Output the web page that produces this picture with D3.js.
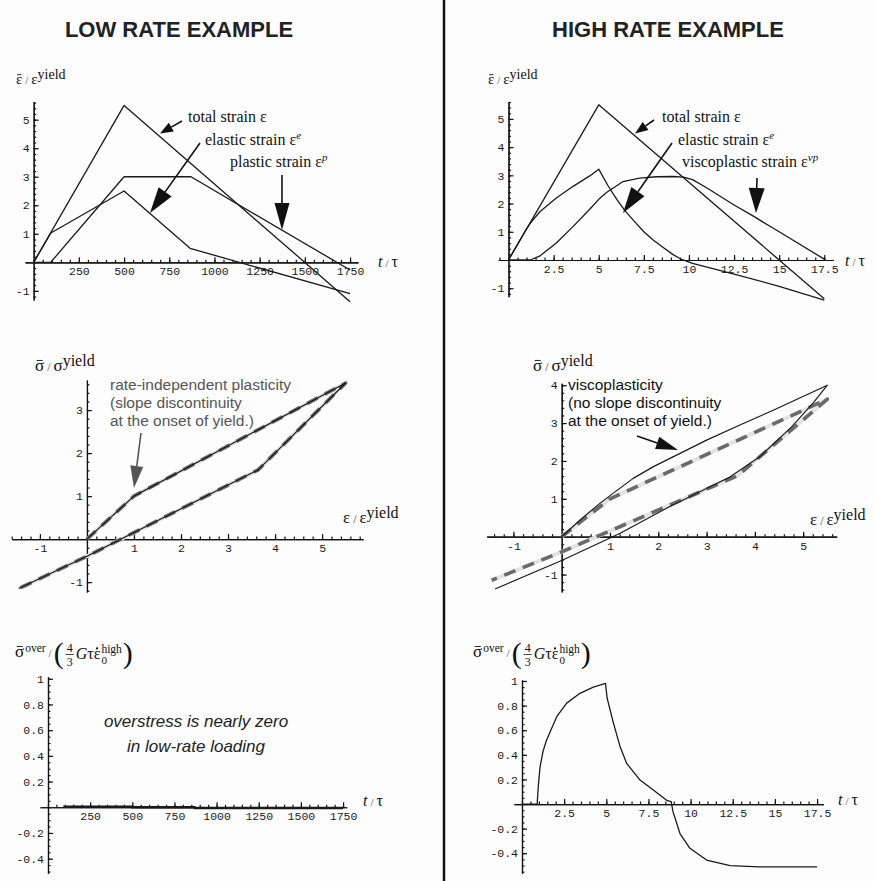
<!DOCTYPE html>
<html>
<head>
<meta charset="utf-8">
<script src="https://cdn.jsdelivr.net/npm/d3@7"></script>
<style>
  body { margin: 0; background: #fdfdfd; }
  svg { display: block; }
  .axis .domain, .axis line { stroke: #111; stroke-width: 1.2; }
</style>
</head>
<body>
<script>
// ---- low rate strains (t/tau, strain/eps_yield) ----
var lowTotalT   = [0, 500, 1750];
var lowTotal    = [0, 5.5, -1.38];
var lowElasticT = [0, 95, 500, 865, 1750];
var lowElastic  = [0, 1.03, 2.5, 0.49, -1.1];
var lowPlasticT = [0, 94, 500, 870, 1750];
var lowPlastic  = [0, 0, 3, 3, -0.27];

// ---- high rate strains ----
var highTotalT   = [0, 5, 17.5];
var highTotal    = [0, 5.5, -1.375];
var highElasticT = [0, 0.9, 1.2, 1.75, 2.65, 3.6, 4.5, 5, 5.5, 6, 6.45, 7, 7.5, 8, 8.5, 9.1, 9.6, 10.2, 11, 12.5, 15, 17.5];
var highElastic  = [0, 1.0, 1.3, 1.72, 2.2, 2.62, 2.98, 3.22, 2.65, 2.15, 1.75, 1.35, 1.0, 0.72, 0.48, 0.2, 0.02, -0.12, -0.25, -0.5, -0.93, -1.42];
var highViscoT   = [0, 1.2, 1.75, 2.65, 3.6, 4.5, 5, 5.45, 6.35, 7.25, 8.2, 9.1, 9.7, 10.2, 11, 12.5, 13.5, 15, 17.5];
var highVisco    = [0, 0, 0.15, 0.6, 1.2, 1.8, 2.15, 2.4, 2.78, 2.9, 2.95, 2.96, 2.94, 2.85, 2.55, 1.95, 1.58, 1.0, 0.03];

// ---- stress vs strain ----
var riEps = [0, 1, 5.5, 3.64, 0, -1.45];          // rate-independent
var riSig = [0, 1, 3.63, 1.61, -0.4, -1.15];
var vpEps = [0, 0.38, 0.79, 1.07, 1.48, 1.9, 2.45, 3.0, 3.69, 4.38, 5.5, 5.2, 4.76, 4.1, 3.49, 3.07, 2.17, 1.21, 0, -1.38];
var vpSig = [0, 0.44, 0.88, 1.15, 1.54, 1.85, 2.2, 2.55, 2.95, 3.34, 4.0, 3.52, 2.9, 2.11, 1.58, 1.32, 0.75, 0.09, -0.63, -1.38];

// ---- overstress ----
var lowOverT  = [91, 500, 500, 870, 870, 1750];
var lowOver   = [0.004, 0.004, 0, 0, -0.006, -0.006];
var highOverT = [0, 0.9, 0.97, 1.07, 1.25, 1.46, 2.06, 2.65, 3.44, 4.23, 4.95, 5.05, 5.42, 5.81, 6.21, 7.0, 7.79, 8.58, 8.85, 8.95, 9.37, 9.96, 10.95, 12.34, 14.1, 17.5];
var highOver  = [0, 0, 0.15, 0.3, 0.43, 0.52, 0.71, 0.82, 0.9, 0.95, 0.98, 0.86, 0.66, 0.47, 0.33, 0.195, 0.114, 0.03, 0.02, -0.06, -0.24, -0.36, -0.455, -0.5, -0.51, -0.51];

// ---- tick labels ----
var lowTTicks    = [250, 500, 750, 1000, 1250, 1500, 1750];
var highTTicks   = [2.5, 5, 7.5, 10, 12.5, 15, 17.5];
var strainTicks  = [-1, 1, 2, 3, 4, 5];
var epsTicks     = [-1, 1, 2, 3, 4, 5];
var sigLowTicks  = [-1, 1, 2, 3];
var sigHighTicks = [-1, 1, 2, 3, 4];
var overTicks    = [-0.4, -0.2, 0.2, 0.4, 0.6, 0.8, 1];

var serif = "'Liberation Serif','Times New Roman',serif";
var sans = "'Liberation Sans',Arial,sans-serif";
var mono = "'Liberation Mono','Courier New',monospace";

var svg = d3.select("body").append("svg")
  .attr("width", 875)
  .attr("height", 881);

svg.append("rect").attr("width", 875).attr("height", 881).attr("fill", "#fdfdfd");

function zip(a, b) { return a.map(function(v, i) { return [v, b[i]]; }); }

function panel(xDom, xRng, yDom, yRng, xTicks, xStep, yTicks, yStep) {
  var x = d3.scaleLinear().domain(xDom).range(xRng);
  var y = d3.scaleLinear().domain(yDom).range(yRng);
  var g = svg.append("g");
  var ax = g.append("g").attr("transform", "translate(0," + y(0) + ")");
  var ay = g.append("g").attr("transform", "translate(" + x(0) + ",0)");

  var xMinor = d3.range(Math.ceil(xDom[0] / xStep) * xStep, xDom[1], xStep);
  var yMinor = d3.range(Math.ceil(yDom[0] / yStep) * yStep, yDom[1], yStep);

  ax.append("g").attr("class", "axis")
    .call(d3.axisBottom(x).tickValues(xMinor).tickSizeInner(-2.5).tickSizeOuter(0).tickFormat(""));
  ax.append("g").attr("class", "axis")
    .call(d3.axisBottom(x).tickValues(xTicks).tickSizeInner(-5).tickSizeOuter(0).tickPadding(5).tickFormat(String))
    .attr("font-family", mono).attr("font-size", 11.5).attr("color", "#1a1a1a");
  ay.append("g").attr("class", "axis")
    .call(d3.axisLeft(y).tickValues(yMinor).tickSizeInner(-2.5).tickSizeOuter(0).tickFormat(""));
  ay.append("g").attr("class", "axis")
    .call(d3.axisLeft(y).tickValues(yTicks).tickSizeInner(-5).tickSizeOuter(0).tickPadding(4).tickFormat(String))
    .attr("font-family", mono).attr("font-size", 11.5).attr("color", "#1a1a1a");
  return { x: x, y: y, g: g };
}

function curve(p, xs, ys, opts) {
  opts = opts || {};
  var line = d3.line().x(function(d) { return p.x(d[0]); }).y(function(d) { return p.y(d[1]); });
  p.g.append("path")
    .attr("d", line(zip(xs, ys)))
    .attr("fill", "none")
    .attr("stroke", opts.color || "#1a1a1a")
    .attr("stroke-width", opts.width || 1.3)
    .attr("stroke-dasharray", opts.dash || null)
    .attr("stroke-linejoin", "round");
}

function dashedCurve(p, xs, ys) {
  curve(p, xs, ys, { color: "#e2e2e2", width: 4 });
  curve(p, xs, ys, { color: "#6a6a6a", width: 3.6, dash: "12,8" });
}

function arrow(x1, y1, x2, y2, len, hw, color) {
  var dx = x2 - x1, dy = y2 - y1, L = Math.sqrt(dx * dx + dy * dy);
  var ux = dx / L, uy = dy / L;
  var bx = x2 - ux * len, by = y2 - uy * len;
  svg.append("line").attr("x1", x1).attr("y1", y1).attr("x2", bx).attr("y2", by)
    .attr("stroke", color).attr("stroke-width", 1.6);
  svg.append("path")
    .attr("d", "M" + x2 + "," + y2 + "L" + (bx - uy * hw) + "," + (by + ux * hw) + "L" + (bx + uy * hw) + "," + (by - ux * hw) + "Z")
    .attr("fill", color);
}

function txt(x, y, s, size, family, opts) {
  opts = opts || {};
  return svg.append("text").attr("x", x).attr("y", y).text(s)
    .attr("font-size", size).attr("font-family", family)
    .attr("font-style", opts.italic ? "italic" : null)
    .attr("font-weight", opts.bold ? "bold" : null)
    .attr("text-anchor", opts.anchor || "start")
    .attr("fill", opts.color || "#111");
}

// place pieces one after another; returns the x after the last piece
function seq(x0, yb, parts) {
  var x = x0;
  parts.forEach(function(pt) {
    x += pt.gap || 0;
    var t = txt(x, yb + (pt.dy || 0), pt.s, pt.size, serif, { italic: pt.italic, color: pt.color });
    var w = t.node().getComputedTextLength();
    if (pt.bar) {
      svg.append("line").attr("x1", x + w * 0.18).attr("x2", x + w * 0.85)
        .attr("y1", yb - pt.size * 0.62).attr("y2", yb - pt.size * 0.62)
        .attr("stroke", "#111").attr("stroke-width", 0.9);
    }
    if (pt.dot) {
      svg.append("circle").attr("cx", x + w * 0.5).attr("cy", yb - pt.size * 0.66)
        .attr("r", 1.1).attr("fill", "#111");
    }
    if (!pt.stay) x += w;
  });
  return x;
}

function ratioLabel(x0, yb, sym, bar, fs, sfs) {
  seq(x0, yb, [
    { s: sym, size: fs, bar: bar },
    { s: "/", size: fs * 0.7, gap: 3, color: "#444" },
    { s: sym, size: fs, gap: 3 },
    { s: "yield", size: sfs, dy: -5 }
  ]);
}

function tauLabel(x0, yb) {
  seq(x0, yb, [
    { s: "t", size: 16, italic: true },
    { s: "/", size: 11, gap: 3, color: "#444" },
    { s: "\u03c4", size: 16, gap: 3 }
  ]);
}

function overLabel(x0, yb) {
  var x = seq(x0, yb, [
    { s: "\u03c3", size: 17, bar: true },
    { s: "over", size: 11.5, dy: -5, gap: 1 },
    { s: "/", size: 11, gap: 3, color: "#444" },
    { s: "(", size: 30, dy: 6, gap: 2 }
  ]);
  x += 2;
  txt(x + 4, yb - 5, "4", 12, serif, { anchor: "middle" });
  txt(x + 4, yb + 9, "3", 12, serif, { anchor: "middle" });
  svg.append("line").attr("x1", x).attr("x2", x + 8).attr("y1", yb - 2.5).attr("y2", yb - 2.5)
    .attr("stroke", "#111").attr("stroke-width", 0.8);
  x = seq(x + 10, yb + 2, [
    { s: "G", size: 16, italic: true },
    { s: "\u03c4", size: 16 },
    { s: "\u03b5", size: 16, dot: true }
  ]);
  var x2 = seq(x + 1, yb + 7, [{ s: "0", size: 11 }]);
  var x3 = seq(x + 1, yb - 4, [{ s: "high", size: 11.5 }]);
  seq(Math.max(x2, x3) + 1, yb + 6, [{ s: ")", size: 30 }]);
}

// ---------- titles + divider ----------
txt(179, 37, "LOW RATE EXAMPLE", 22, sans, { bold: true, anchor: "middle", color: "#222" });
txt(668, 37, "HIGH RATE EXAMPLE", 22, sans, { bold: true, anchor: "middle", color: "#222" });
svg.append("line").attr("x1", 444).attr("x2", 444).attr("y1", 0).attr("y2", 881)
  .attr("stroke", "#111").attr("stroke-width", 2.5);

// ---------- top left ----------
var p1 = panel([-48, 1794], [25, 358], [-1.32, 5.63], [300, 101.7], lowTTicks, 50, strainTicks, 0.2);
curve(p1, lowTotalT, lowTotal);
curve(p1, lowElasticT, lowElastic);
curve(p1, lowPlasticT, lowPlastic);
ratioLabel(16, 84, "\u03b5", true, 15, 14);
tauLabel(378, 267);
txt(188, 122, "total strain  \u03b5", 16, serif);
var a2 = txt(205, 145, "elastic strain  \u03b5", 16, serif);
a2.append("tspan").attr("font-size", 11).attr("dy", -6).attr("font-style", "italic").text("e");
var a3 = txt(230, 167, "plastic strain  \u03b5", 16, serif);
a3.append("tspan").attr("font-size", 11).attr("dy", -6).attr("font-style", "italic").text("p");
arrow(182, 121, 160, 133.5, 13, 5, "#111");
arrow(200, 143, 150, 213, 26, 8, "#111");
arrow(282, 175, 282, 230, 27, 7.5, "#111");

// ---------- top right ----------
var p2 = panel([-0.566, 18.0], [498.3, 833.3], [-1.30, 5.61], [296.7, 101.7], highTTicks, 0.5, strainTicks, 0.2);
curve(p2, highTotalT, highTotal);
curve(p2, highElasticT, highElastic);
curve(p2, highViscoT, highVisco);
ratioLabel(488, 84, "\u03b5", true, 15, 14);
tauLabel(845, 266);
txt(662, 122, "total strain  \u03b5", 16, serif);
var b2 = txt(678, 145, "elastic strain  \u03b5", 16, serif);
b2.append("tspan").attr("font-size", 11).attr("dy", -6).attr("font-style", "italic").text("e");
var b3 = txt(682, 167, "viscoplastic strain  \u03b5", 16, serif);
b3.append("tspan").attr("font-size", 11).attr("dy", -6).attr("font-style", "italic").text("vp");
arrow(654, 120, 635, 133.5, 13, 5, "#111");
arrow(672, 143, 623, 213, 26, 8, "#111");
arrow(757, 178, 756, 213, 25, 8, "#111");

// ---------- middle left ----------
var p3 = panel([-1.60, 5.87], [11.7, 363], [-1.23, 3.70], [592, 380], epsTicks, 0.2, sigLowTicks, 0.2);
dashedCurve(p3, riEps, riSig);
curve(p3, riEps, riSig, { width: 1.2 });
ratioLabel(35, 371, "\u03c3", true, 17, 16);
ratioLabel(343, 523, "\u03b5", false, 17, 16);
txt(110, 390, "rate-independent plasticity", 15.5, sans, { color: "#555" });
txt(110, 408, "(slope discontinuity", 15.5, sans, { color: "#555" });
txt(110, 426, "at the onset of yield.)", 15.5, sans, { color: "#555" });
arrow(141, 433, 134, 488, 22, 6.5, "#555");

// ---------- middle right ----------
var p4 = panel([-1.553, 5.694], [486.7, 836.7], [-1.46, 4.05], [592, 383.3], epsTicks, 0.2, sigHighTicks, 0.2);
dashedCurve(p4, riEps, riSig);
curve(p4, vpEps, vpSig, { width: 1.2 });
ratioLabel(533, 371, "\u03c3", true, 17, 16);
ratioLabel(810, 525, "\u03b5", false, 17, 16);
txt(568, 390, "viscoplasticity", 15.5, sans);
txt(568, 408, "(no slope discontinuity", 15.5, sans);
txt(568, 426, "at the onset of yield.)", 15.5, sans);
arrow(637, 436, 678, 450, 22, 6.5, "#111");

// ---------- bottom left ----------
var p5 = panel([-47.4, 1771.6], [40, 346.7], [-0.514, 1.016], [873.3, 676.7], lowTTicks, 50, overTicks, 0.05);
curve(p5, lowOverT, lowOver, { width: 2.6 });
overLabel(15, 657);
tauLabel(363, 806);
txt(196, 727, "overstress is nearly zero", 17, sans, { italic: true, anchor: "middle", color: "#222" });
txt(196, 752, "in low-rate loading", 17, sans, { italic: true, anchor: "middle", color: "#222" });

// ---------- bottom right ----------
var p6 = panel([-0.474, 17.87], [514, 823.3], [-0.563, 1.008], [873.3, 680], highTTicks, 0.5, overTicks, 0.05);
curve(p6, highOverT, highOver);
overLabel(473, 657);
tauLabel(838, 805);
</script>
</body>
</html>
